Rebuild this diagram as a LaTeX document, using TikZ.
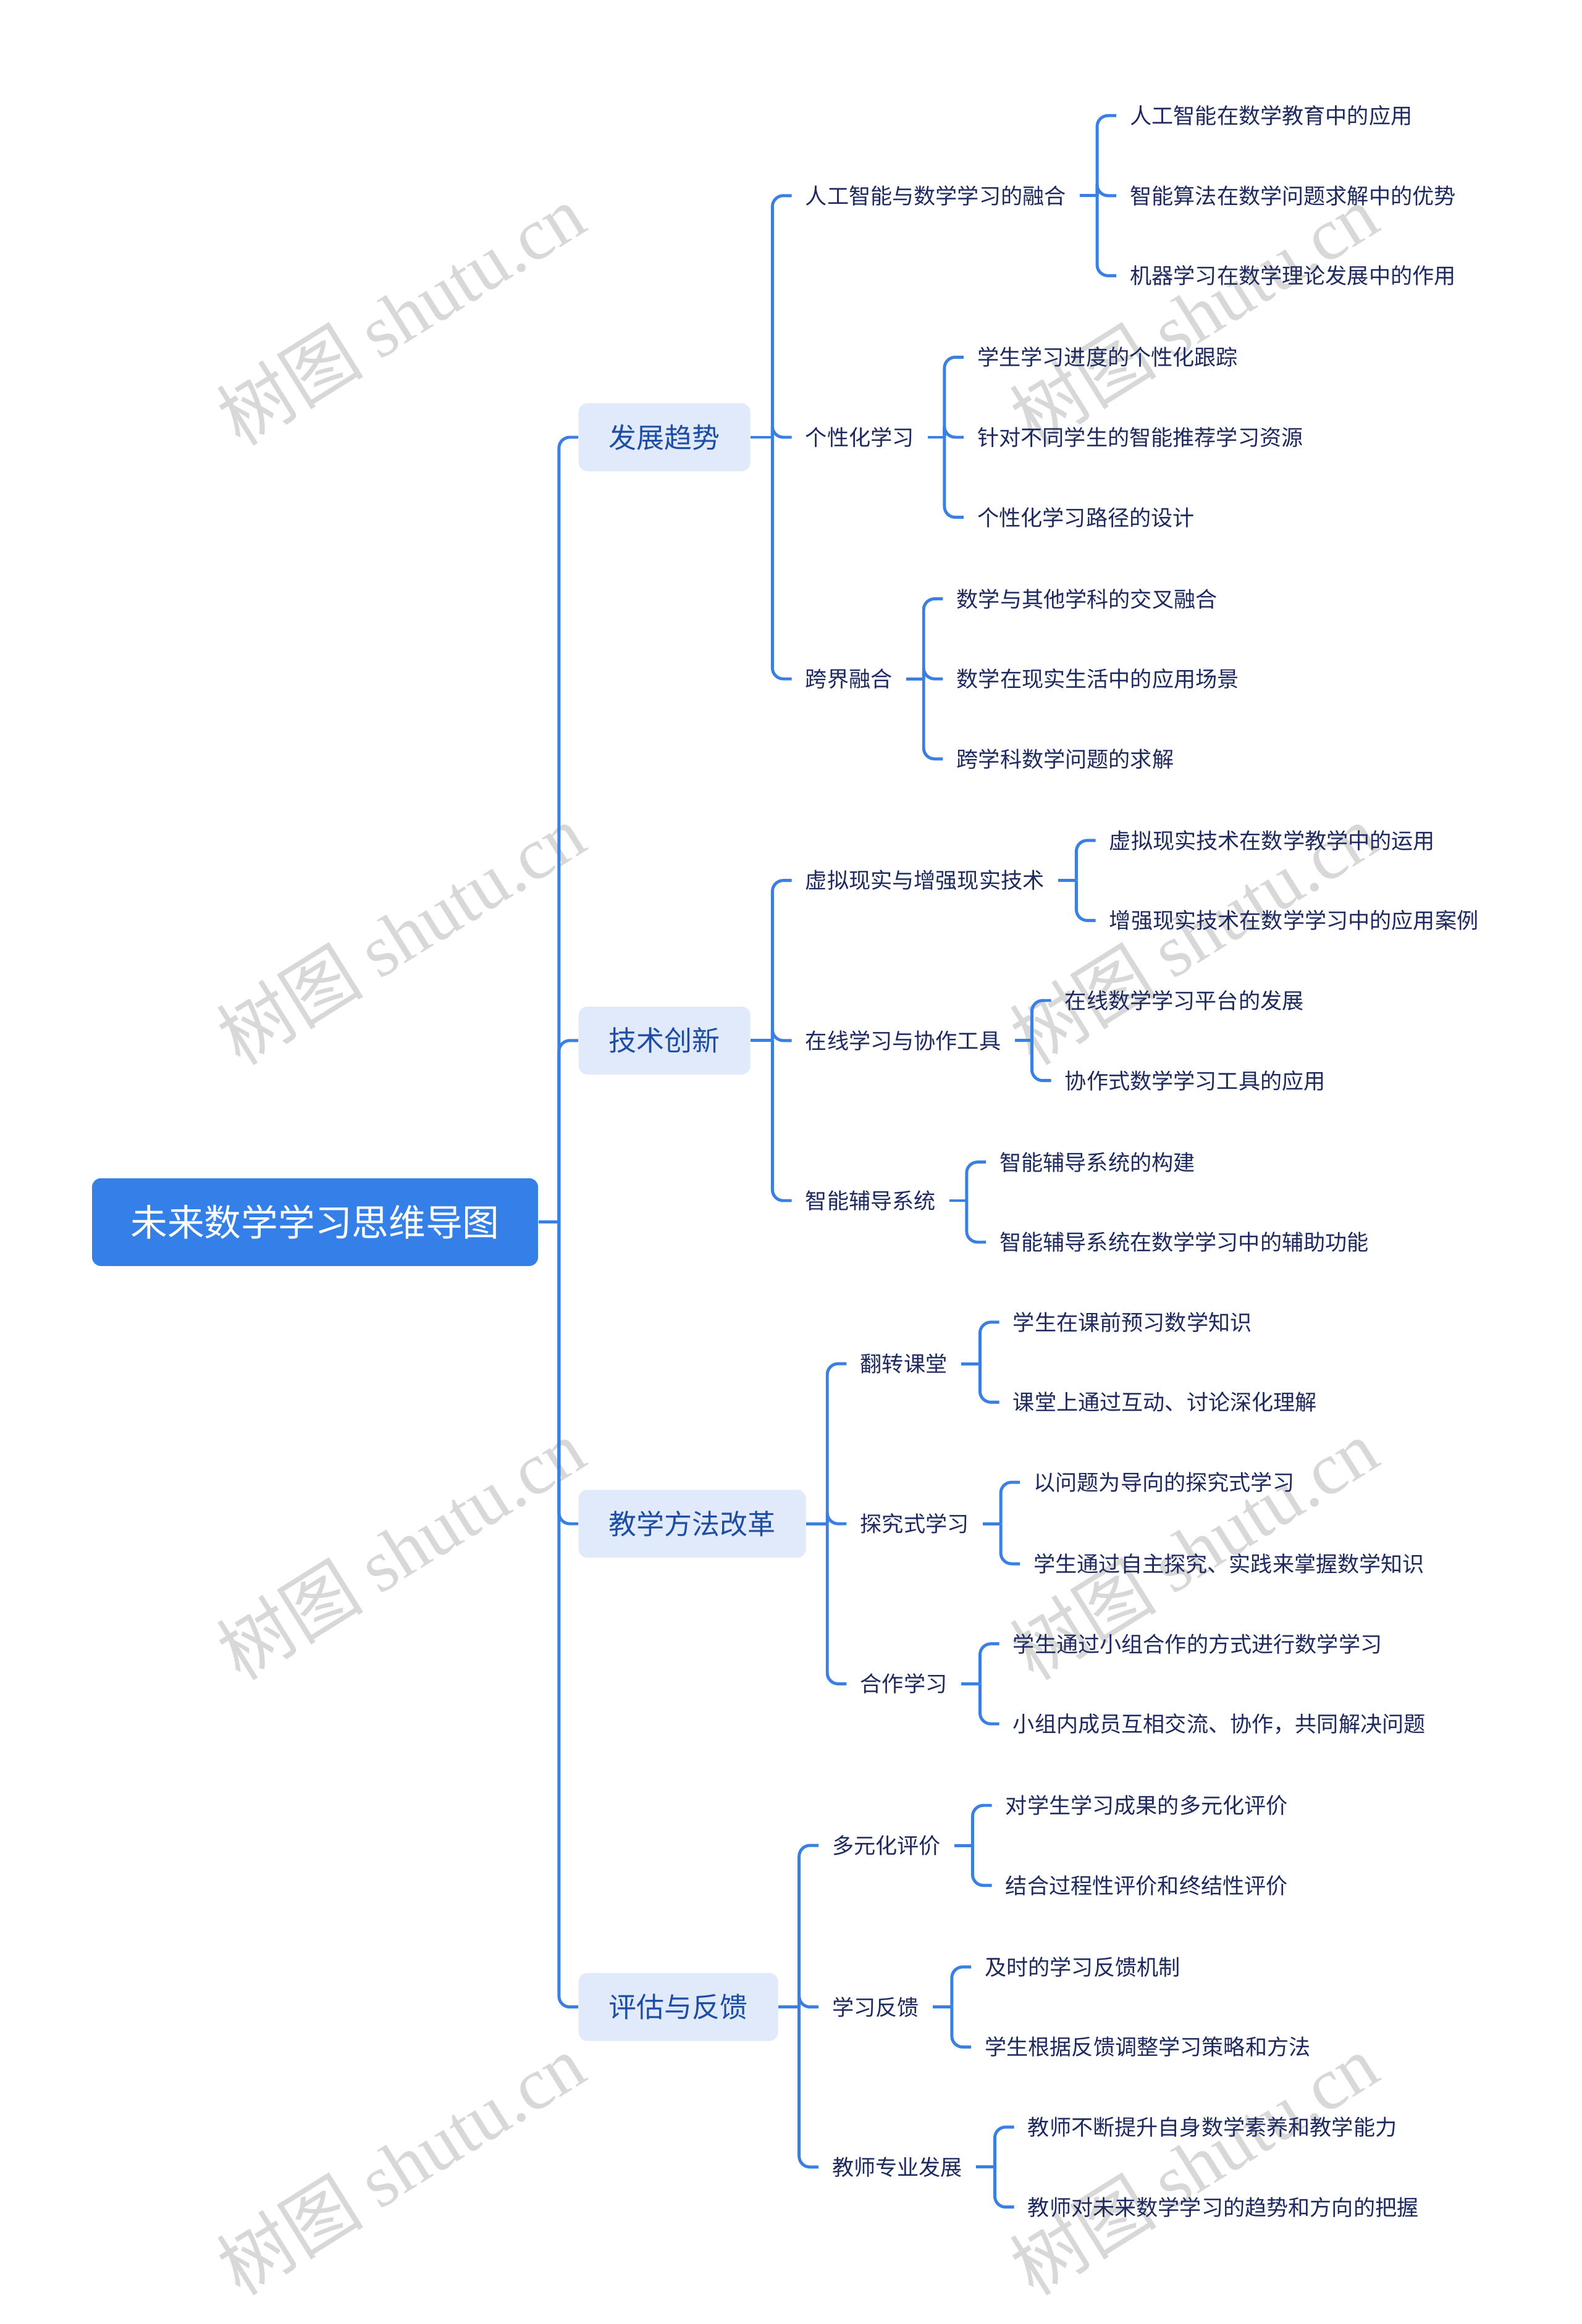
\documentclass[tikz,border=0pt]{standalone}
\usepackage{fontspec}
\setmainfont{Noto Sans CJK SC}
\newfontfamily\wmlatin{Liberation Serif}
\usetikzlibrary{calc,positioning}
\definecolor{mmline}{HTML}{3A7FE2}
\definecolor{mmroot}{HTML}{3480E8}
\definecolor{mmsoft}{HTML}{E1EAFB}
\definecolor{mmblue}{HTML}{1D4EA3}
\definecolor{mmink}{HTML}{1E2A5E}
\definecolor{mmmark}{HTML}{D8D8D8}

\begin{document}
\begin{tikzpicture}[x=0.024cm,y=-0.024cm,
      root/.style={fill=mmroot,rounded corners=4pt,text=white,font=\fontsize{17pt}{20pt}\selectfont,minimum width=7.22cm,minimum height=1.42cm},
      topic/.style={fill=mmsoft,rounded corners=4pt,text=mmblue,font=\fontsize{12.8pt}{15pt}\selectfont,anchor=west,inner xsep=0.49cm,minimum height=1.1cm},
      sub/.style={text=mmink,font=\fontsize{10pt}{12pt}\selectfont,anchor=west,inner xsep=0.216cm},
      link/.style={draw=mmline,line width=1.4pt},
      elbow/.style={link,rounded corners=5pt},
      wmark/.style={text=mmmark,rotate=32,font=\fontsize{34pt}{40pt}\selectfont}]
  \useasboundingbox (0,0) rectangle (1066.7,1567.9);
  % watermarks
  \foreach \wy [count=\i] in {212,630,1045,1460} {
    \node[wmark] (wl\i) at (270,\wy) {树图 {\wmlatin shutu.cn}};
    \node[wmark] (wr\i) at (805,\wy) {树图 {\wmlatin shutu.cn}};
  }
  \node[root] (root) at (212.5,824.5) {未来数学学习思维导图};
  \node[topic] (t1) at (390,295) {发展趋势};
  \node[topic] (t2) at (390,702) {技术创新};
  \node[topic] (t3) at (390,1028) {教学方法改革};
  \node[topic] (t4) at (390,1354) {评估与反馈};
  \coordinate (r0) at (377,824.5);
  \draw[link] (root.east) -- (r0);
  \foreach \t in {t1,t2,t3,t4} \draw[elbow] (r0) |- (\t.west);

  \node[sub] (a1) at (534,132) {人工智能与数学学习的融合};
  \node[sub] (a2) at (534,295) {个性化学习};
  \node[sub] (a3) at (534,458) {跨界融合};
  \node[sub] (b1) at (534,594) {虚拟现实与增强现实技术};
  \node[sub] (b2) at (534,702) {在线学习与协作工具};
  \node[sub] (b3) at (534,810) {智能辅导系统};
  \node[sub] (c1) at (571,920) {翻转课堂};
  \node[sub] (c2) at (571,1028) {探究式学习};
  \node[sub] (c3) at (571,1136) {合作学习};
  \node[sub] (d1) at (552,1245) {多元化评价};
  \node[sub] (d2) at (552,1354) {学习反馈};
  \node[sub] (d3) at (552,1462) {教师专业发展};
  \coordinate (t1b) at (521,295); \coordinate (t2b) at (521,702);
  \coordinate (t3b) at (558,1028); \coordinate (t4b) at (539,1354);
  \foreach \t in {t1,t2,t3,t4} \draw[link] (\t.east) -- (\t b);
  \foreach \s in {a1,a2,a3} \draw[elbow] (t1b) |- (\s.west);
  \foreach \s in {b1,b2,b3} \draw[elbow] (t2b) |- (\s.west);
  \foreach \s in {c1,c2,c3} \draw[elbow] (t3b) |- (\s.west);
  \foreach \s in {d1,d2,d3} \draw[elbow] (t4b) |- (\s.west);

  \node[sub] (a11) at (753,78) {人工智能在数学教育中的应用};
  \node[sub] (a12) at (753,132) {智能算法在数学问题求解中的优势};
  \node[sub] (a13) at (753,186) {机器学习在数学理论发展中的作用};
  \node[sub] (a21) at (650,241) {学生学习进度的个性化跟踪};
  \node[sub] (a22) at (650,295) {针对不同学生的智能推荐学习资源};
  \node[sub] (a23) at (650,349) {个性化学习路径的设计};
  \node[sub] (a31) at (636,404) {数学与其他学科的交叉融合};
  \node[sub] (a32) at (636,458) {数学在现实生活中的应用场景};
  \node[sub] (a33) at (636,512) {跨学科数学问题的求解};
  \node[sub] (b11) at (739,567) {虚拟现实技术在数学教学中的运用};
  \node[sub] (b12) at (739,621) {增强现实技术在数学学习中的应用案例};
  \node[sub] (b21) at (709,675) {在线数学学习平台的发展};
  \node[sub] (b22) at (709,729) {协作式数学学习工具的应用};
  \node[sub] (b31) at (665,784) {智能辅导系统的构建};
  \node[sub] (b32) at (665,838) {智能辅导系统在数学学习中的辅助功能};
  \node[sub] (c11) at (674,892) {学生在课前预习数学知识};
  \node[sub] (c12) at (674,946) {课堂上通过互动、讨论深化理解};
  \node[sub] (c21) at (688,1000) {以问题为导向的探究式学习};
  \node[sub] (c22) at (688,1055) {学生通过自主探究、实践来掌握数学知识};
  \node[sub] (c31) at (674,1109) {学生通过小组合作的方式进行数学学习};
  \node[sub] (c32) at (674,1163) {小组内成员互相交流、协作，共同解决问题};
  \node[sub] (d11) at (669,1218) {对学生学习成果的多元化评价};
  \node[sub] (d12) at (669,1272) {结合过程性评价和终结性评价};
  \node[sub] (d21) at (655,1327) {及时的学习反馈机制};
  \node[sub] (d22) at (655,1381) {学生根据反馈调整学习策略和方法};
  \node[sub] (d31) at (684,1435) {教师不断提升自身数学素养和教学能力};
  \node[sub] (d32) at (684,1489) {教师对未来数学学习的趋势和方向的把握};

  \foreach \s/\bx in {a1/740,a2/637,a3/623,b1/726,b2/696,b3/652,c1/661,c2/675,c3/661,d1/656,d2/642,d3/671} {
    \coordinate (\s b) at (\s.east -| \bx,0);
    \draw[link] (\s.east) -- (\s b);
  }
  \foreach \s in {a1,a2,a3} \foreach \k in {1,2,3} \draw[elbow] (\s b) |- (\s\k.west);
  \foreach \s in {b1,b2,b3,c1,c2,c3,d1,d2,d3} \foreach \k in {1,2} \draw[elbow] (\s b) |- (\s\k.west);
\end{tikzpicture}
\end{document}
